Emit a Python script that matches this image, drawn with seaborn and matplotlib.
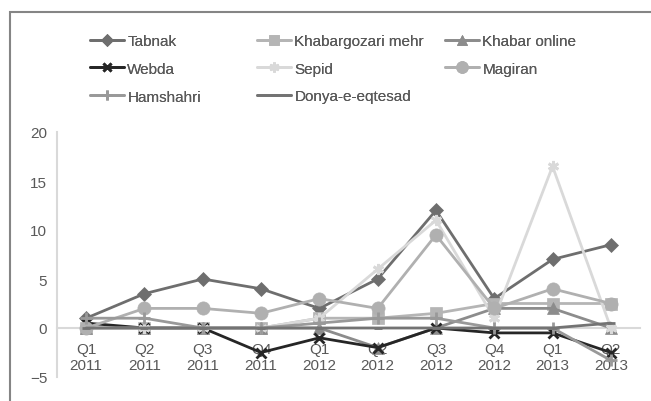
import matplotlib
matplotlib.use("Agg")
import matplotlib.pyplot as plt
from matplotlib.lines import Line2D
from matplotlib.patches import Rectangle
import seaborn as sns

quarters = ["Q1\n2011", "Q2\n2011", "Q3\n2011", "Q4\n2011", "Q1\n2012",
            "Q2\n2012", "Q3\n2012", "Q4\n2012", "Q1\n2013", "Q2\n2013"]

tabnak = [1, 3.5, 5, 4, 2, 5, 12, 3, 7, 8.5]
mehr = [0, 0, 0, 0, 1, 1, 1.5, 2.5, 2.5, 2.5]
khabar_online = [0, 0, 0, 0, 0, -2, 0, 2, 2, 0]
webda = [0.5, 0, 0, -2.5, -1, -2, 0, -0.5, -0.5, -2.5]
sepid = [0, 0, 0, 0, 1, 6, 11, 1, 16.5, 0]
magiran = [0, 2, 2, 1.5, 3, 2, 9.5, 2, 4, 2.5]
hamshahri = [1, 1, 0, 0, 0.5, 1, 1, 0, 0, -3.3]
donya = [0, 0, 0, 0, 0, 0, 0, 0, 0, 0.5]

# Sepid uses an asterisk-like marker like the Excel "star"
asterisk = (6, 2, 0)

series = [
    ("Tabnak", tabnak, "#6e6e6e", "D", 7.5),
    ("Khabargozari mehr", mehr, "#b5b5b5", "s", 8),
    ("Khabar online", khabar_online, "#8c8c8c", "^", 8.5),
    ("Webda", webda, "#262626", "x", 7),
    ("Sepid", sepid, "#d9d9d9", asterisk, 8),
    ("Magiran", magiran, "#b0b0b0", "o", 9.5),
    ("Hamshahri", hamshahri, "#999999", "+", 8),
    ("Donya-e-eqtesad", donya, "#737373", "_", 6),
]
line_markers = ["x", "+", "_", asterisk]

sns.set_style("white")
plt.rcParams['font.family'] = ['Liberation Sans', 'DejaVu Sans']

fig = plt.figure(figsize=(6.51, 4.02), dpi=100)
ax = fig.add_axes([57 / 651, 24 / 402, 583 / 651, 245 / 402])

x = list(range(len(quarters)))
for name, vals, col, mk, ms in series:
    thin = mk in line_markers
    sns.lineplot(x=x, y=vals, ax=ax, color=col, marker=mk, markersize=ms,
                 markeredgecolor=col, markeredgewidth=2 if thin else 0.5,
                 linewidth=2, legend=False)

ax.set_xlim(-0.5, 9.5)
ax.set_ylim(-5, 20)
ax.set_yticks([-5, 0, 5, 10, 15, 20])
ax.set_xticks(x)
ax.set_xticklabels(quarters, linespacing=0.95)
ax.tick_params(axis="both", length=0, labelsize=11, labelcolor="#595959")
ax.tick_params(axis="y", pad=7)
ax.tick_params(axis="x", pad=10)

for s in ["top", "right"]:
    ax.spines[s].set_visible(False)
ax.spines["left"].set_color("#d9d9d9")
ax.spines["left"].set_linewidth(1.5)
ax.spines["bottom"].set_position(("data", 0))
ax.spines["bottom"].set_color("#d9d9d9")
ax.spines["bottom"].set_linewidth(1.5)
ax.spines["bottom"].set_zorder(0)

# legend, three columns laid out row by row
cols = [[0, 3, 6], [1, 4, 7], [2, 5]]
xpos = [90, 257, 445]
for ci, idxs in enumerate(cols):
    handles = []
    for i in idxs:
        name, vals, col, mk, ms = series[i]
        thin = mk in line_markers
        handles.append(Line2D([], [], color=col, marker=mk, markersize=ms - 1,
                              markeredgecolor=col,
                              markeredgewidth=2 if thin else 0.5,
                              linewidth=2, label=name))
    leg = fig.legend(handles=handles, loc="upper left",
                     bbox_to_anchor=(xpos[ci] / 651, 1 - 35 / 402),
                     frameon=False, fontsize=11, handlelength=2.2,
                     handletextpad=0.25, labelspacing=0.9, borderaxespad=0,
                     borderpad=0, labelcolor="#595959")
    fig.add_artist(leg)

# outer chart frame
fig.add_artist(Rectangle((10 / 651, -0.1), 1.0, 1 - 13 / 402 + 0.1,
                         transform=fig.transFigure, fill=False,
                         edgecolor="#858585", linewidth=1.5, clip_on=False))

fig.savefig("out.png", dpi=100)
